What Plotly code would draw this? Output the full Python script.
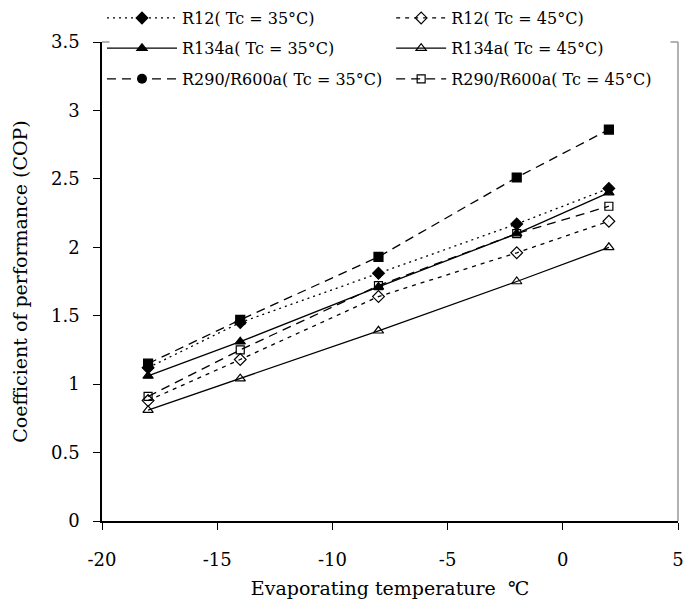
import plotly.graph_objects as go

evap_temp = [-18, -14, -8, -2, 2]
r12_35 = [1.12, 1.45, 1.81, 2.17, 2.43]
r12_45 = [0.88, 1.18, 1.64, 1.96, 2.19]
r134a_35 = [1.06, 1.31, 1.71, 2.10, 2.40]
r134a_45 = [0.81, 1.04, 1.39, 1.75, 2.00]
r290_35 = [1.15, 1.47, 1.93, 2.51, 2.86]
r290_45 = [0.91, 1.25, 1.72, 2.10, 2.30]

x_tick_vals = [-20, -15, -10, -5, 0, 5]
x_tick_text = ["-20", "-15", "-10", "-5", "0", "5"]

names = ["R12( Tc = 35°C)", "R12( Tc = 45°C)",
         "R134a( Tc = 35°C)", "R134a( Tc = 45°C)",
         "R290/R600a( Tc = 35°C)", "R290/R600a( Tc = 45°C)"]

FONT = "DejaVu Serif"
fig = go.Figure()

series = [
    (r12_35, names[0], "2px,4px", "diamond", 9, "legend"),
    (r12_45, names[1], "4px,5px", "diamond-open", 9, "legend2"),
    (r134a_35, names[2], "solid", "triangle-up", 9, "legend3"),
    (r134a_45, names[3], "solid", "triangle-up-open", 9, "legend4"),
    (r290_35, names[4], "9px,6px", "square", 9, "legend5"),
    (r290_45, names[5], "9px,6px", "square-open", 8, "legend6"),
]

for ys, nm, dash, sym, sz, lg in series:
    is_r290_35 = (nm == names[4])
    fig.add_trace(go.Scatter(
        x=evap_temp, y=ys, name=nm, mode="lines+markers",
        line=dict(color="black", width=1.3, dash=dash),
        marker=dict(symbol=sym, size=sz, color="black",
                    line=dict(color="black", width=1.2)),
        legend=lg, showlegend=not is_r290_35,
    ))
    if is_r290_35:
        # the legend shows a filled circle for this series
        fig.add_trace(go.Scatter(
            x=[None], y=[None], name=nm, mode="lines+markers",
            line=dict(color="black", width=1.3, dash=dash),
            marker=dict(symbol="circle", size=10, color="black"),
            legend=lg, showlegend=True,
        ))

def leg(x, y, iw):
    return dict(orientation="h", xanchor="left", yanchor="middle",
                bgcolor="rgba(0,0,0,0)", itemwidth=iw,
                font=dict(family=FONT, size=16, color="black"),
                x=x, y=y, borderwidth=0)

row_y = [1.050, 0.987, 0.923]
col_x = [0.0, 0.502]
col_iw = [70, 50]

fig.update_layout(
    width=676, height=594,
    margin=dict(l=94, r=6, t=34, b=81, autoexpand=False),
    paper_bgcolor="white", plot_bgcolor="white",
    font=dict(family=FONT, size=18, color="black"),
    legend=leg(col_x[0], row_y[0], col_iw[0]),
    legend2=leg(col_x[1], row_y[0], col_iw[1]),
    legend3=leg(col_x[0], row_y[1], col_iw[0]),
    legend4=leg(col_x[1], row_y[1], col_iw[1]),
    legend5=leg(col_x[0], row_y[2], col_iw[0]),
    legend6=leg(col_x[1], row_y[2], col_iw[1]),
    xaxis=dict(range=[-20, 5], tickvals=x_tick_vals, ticktext=x_tick_text,
               showgrid=False, zeroline=False,
               showline=True, linecolor="black", linewidth=1.5,
               ticks="outside", ticklen=7, tickcolor="black",
               ticklabelstandoff=15,
               tickfont=dict(family=FONT, size=18),
               title=dict(text="Evaporating temperature  ℃",
                          font=dict(family=FONT, size=19), standoff=12)),
    yaxis=dict(range=[0, 3.5], dtick=0.5, showgrid=False, zeroline=False,
               showline=True, linecolor="black", linewidth=1.5,
               ticks="outside", ticklen=7, tickcolor="black",
               ticklabelstandoff=10,
               tickfont=dict(family=FONT, size=18),
               title=dict(text="Coefficient of performance (COP)",
                          font=dict(family=FONT, size=19), standoff=18)),
    shapes=[
        dict(type="line", xref="paper", yref="paper", x0=0, x1=0.013, y0=1, y1=1,
             line=dict(color="#999999", width=1.5)),
        dict(type="line", xref="paper", yref="paper", x0=0.987, x1=1, y0=1, y1=1,
             line=dict(color="#999999", width=1.5)),
        dict(type="line", xref="paper", yref="paper", x0=1, x1=1, y0=0, y1=1,
             line=dict(color="#999999", width=1.5)),
    ],
)

fig.write_html("out.html")
